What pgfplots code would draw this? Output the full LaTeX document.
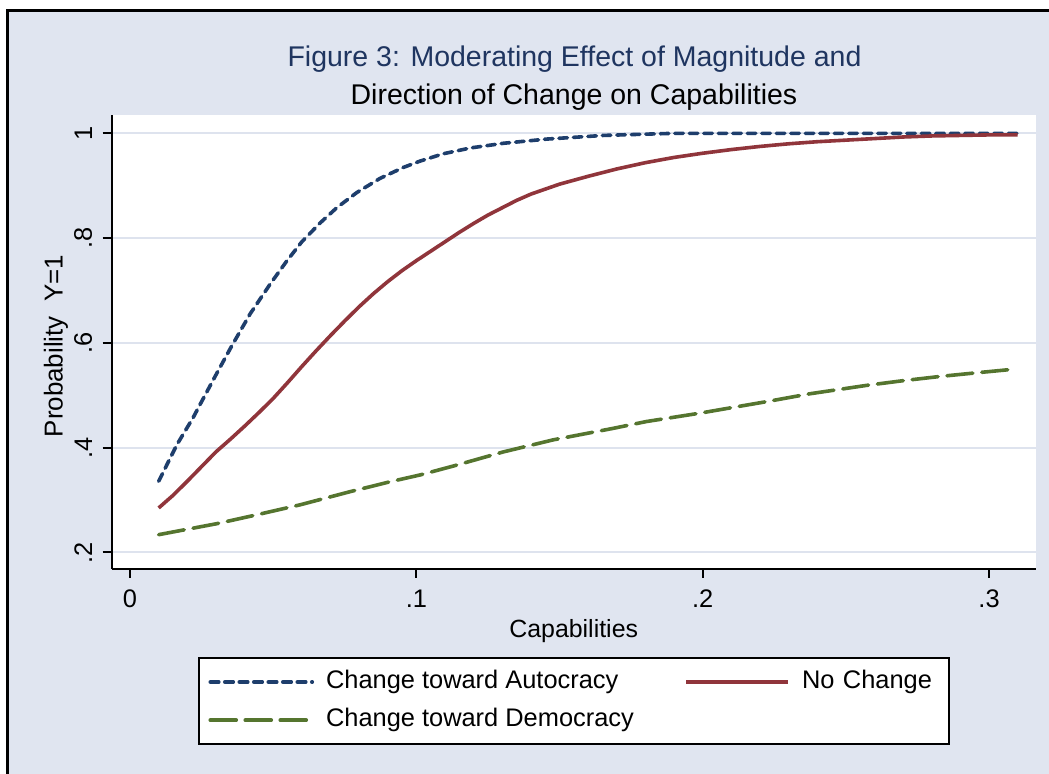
\documentclass[border=0pt]{standalone}
\usepackage{pgfplots}
\pgfplotsset{compat=1.18}
\usepackage{fontspec}
\setmainfont{Liberation Sans}
\definecolor{bgc}{RGB}{224,229,240}
\definecolor{gridc}{RGB}{222,227,238}
\definecolor{snavy}{RGB}{30,62,108}
\definecolor{smaroon}{RGB}{144,53,59}
\definecolor{sgreen}{RGB}{85,117,47}
\definecolor{ttl}{RGB}{31,53,96}
\begin{document}
\begin{tikzpicture}
\begin{scope}[x=1bp,y=1bp,shift={(-111.7bp,-205bp)}]
\path[use as bounding box] (0,0) rectangle (1049,774);
\fill[white] (0,0) rectangle (1049,774);
\fill[bgc] (8,0) rectangle (1049,763);
\draw[line width=3bp] (8,-2) -- (8,763) -- (1051,763);
\node[anchor=base, text=ttl, font=\fontsize{28.6}{34}\selectfont, inner sep=0pt] at (574.5,707) {Figure 3: Moderating Effect of Magnitude and};
\node[anchor=base, font=\fontsize{28.6}{34}\selectfont, inner sep=0pt] at (574,669) {Direction of Change on Capabilities};
\end{scope}
\begin{axis}[
  width=924bp, height=454bp, scale only axis,
  xmin=-0.0064, xmax=0.3163, ymin=0.1685, ymax=1.035,
  axis x line*=bottom, axis y line*=left,
  axis line style={line width=2bp, black, -},
  axis background/.style={fill=white},
  xtick={0,0.1,0.2,0.3}, xticklabels={0,.1,.2,.3},
  ytick={0.2,0.4,0.6,0.8,1}, yticklabels={.2,.4,.6,.8,1},
  minor tick num=0,
  tick align=outside, major tick length=9bp,
  tick style={line width=2bp, black},
  ymajorgrids, grid style={gridc, line width=2bp},
  ticklabel style={font=\fontsize{25.5}{30}\selectfont, inner sep=0pt},
  xticklabel style={anchor=north},
  yticklabel style={rotate=90, anchor=south},
  xticklabel shift=12bp, yticklabel shift=10.4bp,
  xlabel={Capabilities}, ylabel={Probability~~Y=1},
  xlabel style={font=\fontsize{25}{30}\selectfont, at={(axis description cs:0.5,-0.1498)}, anchor=base, inner sep=0pt},
  ylabel style={font=\fontsize{26}{30}\selectfont, at={(axis description cs:-0.0530,0.491)}, anchor=base, inner sep=0pt},
  legend columns=2,
  legend cell align=left,
  legend style={at={(axis description cs:0.5003,-0.1938)}, anchor=north,
    draw=black, line width=2bp, fill=white,
    font=\fontsize{25.5}{30}\selectfont,
    inner xsep=9.5bp, inner ysep=12bp, row sep=14.3bp,
    /tikz/every odd column/.append style={column sep=12bp},
    /tikz/every even column/.append style={column sep=50.5bp},
    /tikz/column 4/.append style={nodes={text width=137.5bp, align=left}},
    nodes={inner sep=0pt, text height=18.5bp, text depth=5.5bp}},
  legend image code/.code={\draw[#1] (0bp,0bp) -- (102bp,0bp);},
]
\addplot[snavy, line width=3.6bp, line cap=round, dash pattern=on 8.5bp off 6bp] table {
x y
0.010 0.336
0.0163 0.405
0.0221 0.458
0.025 0.488
0.0303 0.542
0.0355 0.594
0.0419 0.655
0.0489 0.712
0.0547 0.756
0.060 0.793
0.0664 0.829
0.0722 0.858
0.0792 0.887
0.0873 0.914
0.0955 0.935
0.1013 0.947
0.1094 0.961
0.1188 0.972
0.1304 0.981
0.1455 0.989
0.1653 0.996
0.1898 1.000
0.2500 1.000
0.3100 1.000
};
\addlegendentry{Change toward Autocracy}
\addplot[smaroon, line width=3.6bp] table {
x y
0.010 0.285
0.015 0.309
0.020 0.336
0.025 0.364
0.030 0.392
0.035 0.416
0.040 0.441
0.045 0.467
0.050 0.494
0.055 0.524
0.060 0.555
0.065 0.585
0.070 0.614
0.075 0.642
0.080 0.669
0.085 0.694
0.090 0.717
0.095 0.738
0.100 0.757
0.105 0.775
0.110 0.793
0.115 0.811
0.120 0.828
0.125 0.844
0.130 0.858
0.135 0.872
0.140 0.884
0.150 0.903
0.160 0.918
0.170 0.932
0.180 0.944
0.190 0.954
0.200 0.962
0.210 0.969
0.220 0.975
0.230 0.980
0.240 0.984
0.250 0.987
0.260 0.990
0.270 0.993
0.280 0.995
0.290 0.996
0.300 0.997
0.310 0.997
};
\addlegendentry{No Change}
\addplot[sgreen, line width=3.6bp, line cap=round, dash pattern=on 26bp off 9bp] table {
x y
0.010 0.234
0.0303 0.255
0.0443 0.272
0.0594 0.291
0.0768 0.316
0.0908 0.335
0.1013 0.348
0.1129 0.365
0.1304 0.392
0.1478 0.415
0.1688 0.437
0.1804 0.450
0.1991 0.466
0.2107 0.477
0.2224 0.488
0.2375 0.503
0.2573 0.519
0.2701 0.528
0.2829 0.536
0.2957 0.543
0.309 0.550
};
\addlegendentry{Change toward Democracy}
\end{axis}
\end{tikzpicture}
\end{document}
